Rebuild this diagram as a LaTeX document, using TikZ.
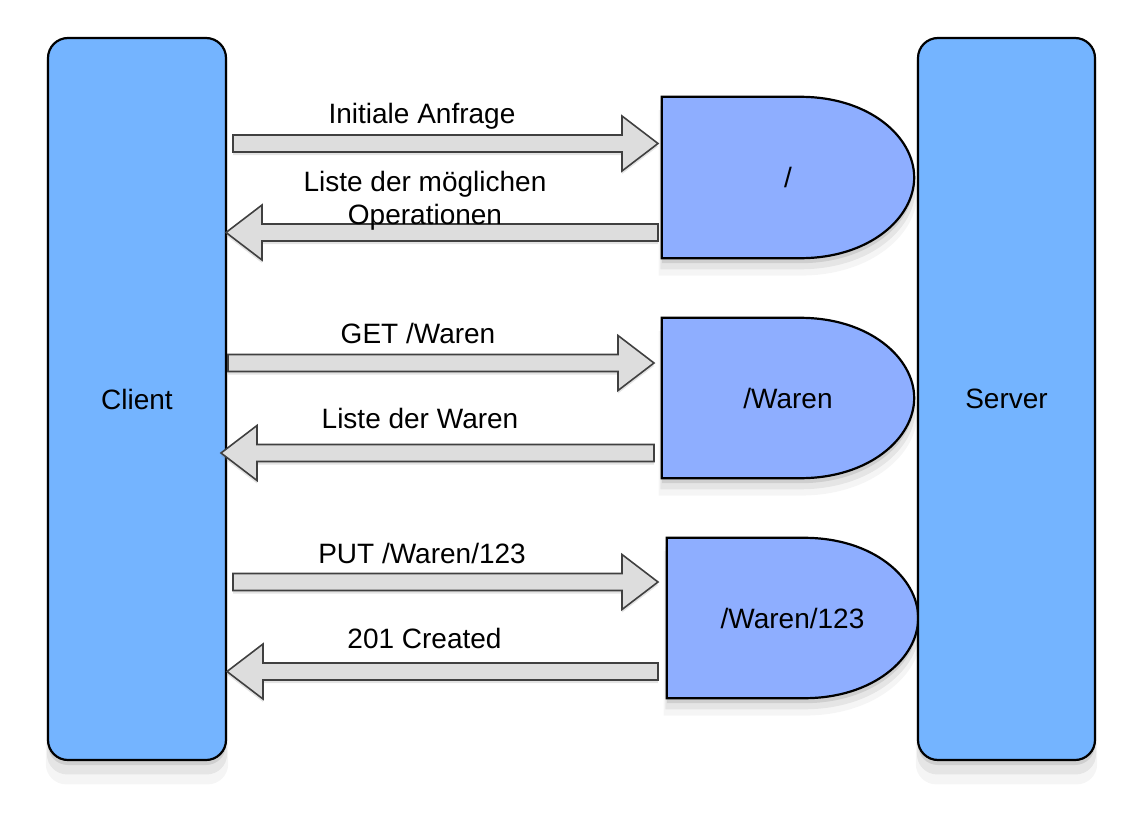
\documentclass[tikz,border=0pt]{standalone}
\usepackage{fontspec}
\setmainfont{Liberation Sans}
\usetikzlibrary{calc, shadows, backgrounds}

\definecolor{tierblue}{HTML}{74B4FF}
\definecolor{resblue}{HTML}{8EAEFF}
\definecolor{arrowgray}{HTML}{DDDDDD}

\tikzset{
  softshadow/.style={drop shadow={opacity=.08, shadow xshift=0pt, shadow yshift=-15pt, shadow scale=1.025},
                     drop shadow={opacity=.14, shadow xshift=0pt, shadow yshift=-10pt, shadow scale=1.012},
                     drop shadow={opacity=.22, shadow xshift=0pt, shadow yshift=-5pt}},
  tier/.style={draw, line width=2.2pt, fill=tierblue, rounded corners=20pt,
               minimum width=178pt, minimum height=722pt, softshadow},
  res/.style={minimum width=252pt, minimum height=161pt},
  dbox/.style={draw, line width=2.2pt, fill=resblue, softshadow},
  fat/.style={draw=black!75, line width=1.6pt, fill=arrowgray, line join=miter,
              drop shadow={opacity=.22, shadow xshift=0pt, shadow yshift=-3pt}},
  msg/.style={anchor=base}
}

% block arrow from #1 to #2 (horizontal)
\newcommand\fatarrow[2]{%
  \draw[fat] let \p1=(#1), \p2=(#2), \n1={(\x2>\x1) ? 1 : -1}, \n2={\x2-(\n1)*36pt} in
    ({\x1},{\y1+8.5pt}) -- ({\n2},{\y1+8.5pt}) -- ({\n2},{\y1+27.5pt})
    -- ({\x2},{\y1}) -- ({\n2},{\y1-27.5pt}) -- ({\n2},{\y1-8.5pt})
    -- ({\x1},{\y1-8.5pt}) -- cycle;}

% rounded resource box behind node #1
\newcommand\dshape[1]{%
  \draw[dbox] (#1.north west) -- ([xshift=-114pt]#1.north east)
    .. controls ([xshift=-45pt]#1.north east) and ([yshift=-40pt]#1.north east) .. (#1.east)
    .. controls ([yshift=40pt]#1.south east) and ([xshift=-45pt]#1.south east) .. ([xshift=-114pt]#1.south east)
    -- (#1.south west) -- cycle;}

\begin{document}
\begin{tikzpicture}[x=1pt, y=-1pt, every node/.style={font=\fontsize{28}{33}\selectfont}]
    \useasboundingbox (0,0) rectangle (1141,816);

    \node [tier] (client) at (137, 399) {Client};
    \node [tier, minimum width=177pt] (server) at (1006.5, 399) {Server};

    \node [res] (root) at (788, 177.5) {/};
    \node [res, minimum height=160pt] (waren) at (788, 398) {/Waren};
    \node [res, minimum width=251pt, minimum height=160pt] (item) at (792.5, 618) {/Waren/123};
    \begin{scope}[on background layer]
      \dshape{root}
      \dshape{waren}
      \dshape{item}
    \end{scope}

    % request / response pairs
    \coordinate (req1) at (233, 143.5);  \coordinate (got1) at (658, 143.5);
    \coordinate (ans1) at (658, 232.5);  \coordinate (back1) at (226, 232.5);
    \coordinate (req2) at (228, 363);    \coordinate (got2) at (654, 363);
    \coordinate (ans2) at (654, 453);    \coordinate (back2) at (221, 453);
    \coordinate (req3) at (233, 582);    \coordinate (got3) at (658, 582);
    \coordinate (ans3) at (658, 671.5);  \coordinate (back3) at (227, 671.5);

    \fatarrow{req1}{got1}
    \fatarrow{ans1}{back1}
    \fatarrow{req2}{got2}
    \fatarrow{ans2}{back2}
    \fatarrow{req3}{got3}
    \fatarrow{ans3}{back3}

    \node [msg] (m1) at (422, 123) {Initiale Anfrage};
    \node [align=center] (m2) at (425, 201) {Liste der möglichen\\Operationen};
    \node [msg] (m3) at (418, 343) {GET /Waren};
    \node [msg] (m4) at (420, 428) {Liste der Waren};
    \node [msg] (m5) at (422, 563) {PUT /Waren/123};
    \node [msg] (m6) at (424.5, 648) {201 Created};
\end{tikzpicture}
\end{document}
